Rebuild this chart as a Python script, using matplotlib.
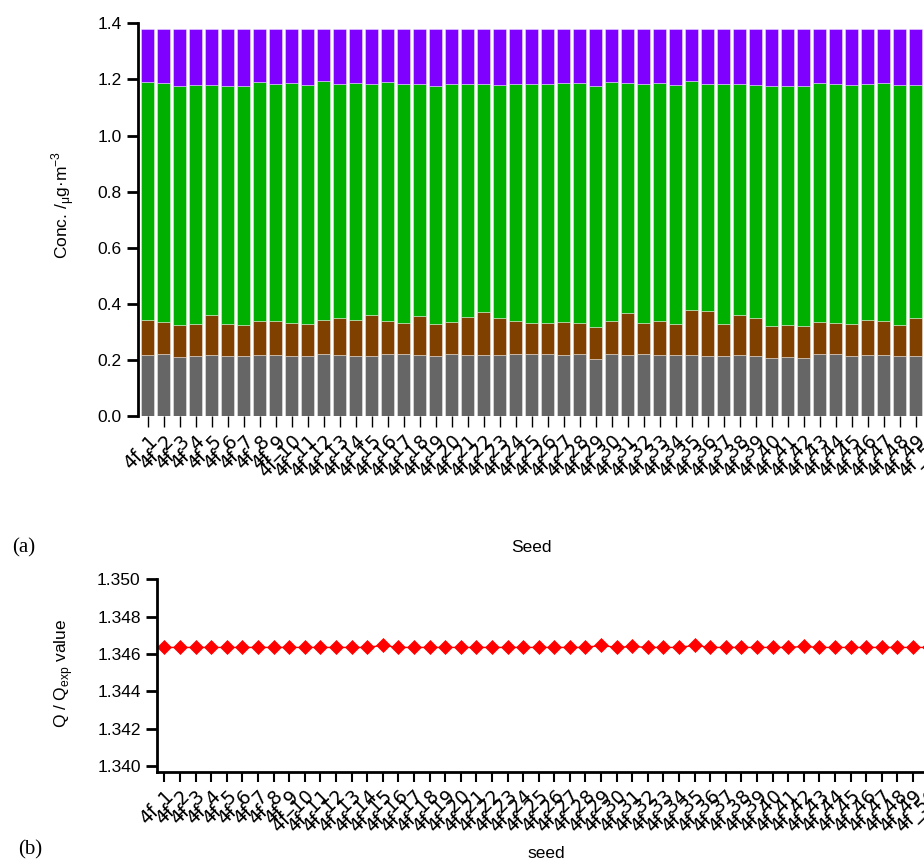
import matplotlib
matplotlib.use("Agg")
import matplotlib.pyplot as plt
import numpy as np

plt.rcParams['font.family'] = ['Liberation Sans', 'DejaVu Sans']

# seeds 4f_1 ... 4f_50
seeds = ["4f_%d" % i for i in range(1, 51)]

# cumulative stack tops (ug m-3)
top_gray = [0.216, 0.221, 0.209, 0.213, 0.216, 0.214, 0.213, 0.216, 0.216, 0.215,
            0.213, 0.220, 0.216, 0.213, 0.214, 0.220, 0.220, 0.216, 0.214, 0.221,
            0.216, 0.216, 0.216, 0.221, 0.220, 0.220, 0.216, 0.220, 0.202, 0.220,
            0.216, 0.221, 0.218, 0.216, 0.216, 0.213, 0.215, 0.216, 0.213, 0.206,
            0.209, 0.206, 0.220, 0.220, 0.213, 0.216, 0.216, 0.213, 0.213, 0.214]
top_brown = [0.341, 0.335, 0.323, 0.328, 0.361, 0.327, 0.326, 0.340, 0.338, 0.330,
             0.328, 0.341, 0.351, 0.342, 0.360, 0.338, 0.330, 0.357, 0.327, 0.335,
             0.352, 0.370, 0.349, 0.338, 0.333, 0.330, 0.334, 0.330, 0.316, 0.338,
             0.366, 0.333, 0.338, 0.329, 0.377, 0.373, 0.328, 0.359, 0.348, 0.320,
             0.323, 0.320, 0.335, 0.330, 0.327, 0.341, 0.338, 0.326, 0.348, 0.335]
top_green = [1.191, 1.186, 1.175, 1.179, 1.181, 1.176, 1.175, 1.190, 1.182, 1.186,
             1.179, 1.193, 1.182, 1.186, 1.184, 1.190, 1.182, 1.182, 1.176, 1.184,
             1.182, 1.182, 1.179, 1.182, 1.182, 1.182, 1.187, 1.186, 1.175, 1.191,
             1.187, 1.182, 1.188, 1.179, 1.193, 1.185, 1.184, 1.185, 1.179, 1.175,
             1.178, 1.175, 1.187, 1.184, 1.179, 1.185, 1.188, 1.179, 1.179, 1.182]
top_purple = [1.378] * 50

# Q / Qexp, panel (b)
q_ratio = [1.34635, 1.34635, 1.34635, 1.34635, 1.34635, 1.34635, 1.34635, 1.34635, 1.34635, 1.34635,
           1.34635, 1.34635, 1.34635, 1.34635, 1.34646, 1.34635, 1.34635, 1.34635, 1.34635, 1.34635,
           1.34635, 1.34635, 1.34635, 1.34635, 1.34635, 1.34635, 1.34635, 1.34635, 1.34646, 1.34635,
           1.34640, 1.34635, 1.34635, 1.34635, 1.34646, 1.34635, 1.34635, 1.34635, 1.34635, 1.34635,
           1.34635, 1.34640, 1.34635, 1.34635, 1.34635, 1.34635, 1.34635, 1.34635, 1.34635, 1.34635]

colors = ['#666666', '#804000', '#00b000', '#8000ff']
fs = 12.5

fig = plt.figure(figsize=(9.24, 8.67), dpi=100)

# ---- (a) stacked bars
ax1 = fig.add_axes([138.3 / 924, 1 - 416 / 867, 802.8 / 924, 392.7 / 867])
x = np.arange(len(seeds))
levels = [np.zeros(len(seeds)), np.array(top_gray), np.array(top_brown),
          np.array(top_green), np.array(top_purple)]
for k in range(4):
    ax1.bar(x, levels[k + 1] - levels[k], bottom=levels[k], width=0.84,
            color=colors[k], edgecolor=(1, 1, 1, 0.45), linewidth=0.6)
ax1.set_xlim(-0.5875, 49.5875)
ax1.set_ylim(0, 1.4)
ax1.set_yticks(np.arange(0, 1.41, 0.2))
ax1.set_yticklabels(["%.1f" % v for v in np.arange(0, 1.41, 0.2)])
ax1.set_xticks(x)
ax1.set_xticklabels(seeds, rotation=45, ha='right', rotation_mode='anchor',
                    family='DejaVu Sans', fontsize=13.5)
for s in ['top', 'right', 'bottom']:
    ax1.spines[s].set_visible(False)
ax1.spines['left'].set_linewidth(2)
ax1.tick_params(axis='y', length=8, width=2, labelsize=fs, pad=4)
ax1.tick_params(axis='x', length=8, width=1, pad=3)

fig.text(63 / 924, 1 - 205 / 867, "Conc. /$_\\mathregular{\u03bc}$g\u00b7m$^\\mathregular{-3}$",
         rotation=90, ha='center', va='center', fontsize=fs)
fig.text(531 / 924, 1 - 548 / 867, "Seed", ha='center', va='center', fontsize=fs)
fig.text(24 / 924, 1 - 548 / 867, "(a)", ha='center', va='center', fontsize=15,
         family='Liberation Serif')

# ---- (b) Q/Qexp
ax2 = fig.add_axes([157.3 / 924, 1 - 772.3 / 867, 778.4 / 924, 193 / 867])
ax2.plot(x, q_ratio, color='#ff0000', linewidth=1, marker='D', markersize=7.5,
         markeredgewidth=0.5)
ax2.set_xlim(-0.449, 49.449)
ax2.set_ylim(1.33966, 1.350)
yt = [1.340, 1.342, 1.344, 1.346, 1.348, 1.350]
ax2.set_yticks(yt)
ax2.set_yticklabels(["%.3f" % v for v in yt])
ax2.set_xticks(x)
ax2.set_xticklabels(seeds, rotation=45, ha='right', rotation_mode='anchor',
                    family='DejaVu Sans', fontsize=13.5)
for s in ['top', 'right']:
    ax2.spines[s].set_visible(False)
ax2.spines['left'].set_linewidth(2)
ax2.spines['bottom'].set_linewidth(2)
ax2.tick_params(axis='y', length=8, width=2, labelsize=fs, pad=4)
ax2.tick_params(axis='x', length=7, width=1.5, pad=3)

fig.text(64 / 924, 1 - 673 / 867, "Q / Q$_\\mathregular{exp}$ value",
         rotation=90, ha='center', va='center', fontsize=fs)
fig.text(546 / 924, 1 - 853 / 867, "seed", ha='center', va='center', fontsize=fs)
fig.text(30 / 924, 1 - 850 / 867, "(b)", ha='center', va='center', fontsize=15,
         family='Liberation Serif')

fig.savefig("out.png", dpi=100)
